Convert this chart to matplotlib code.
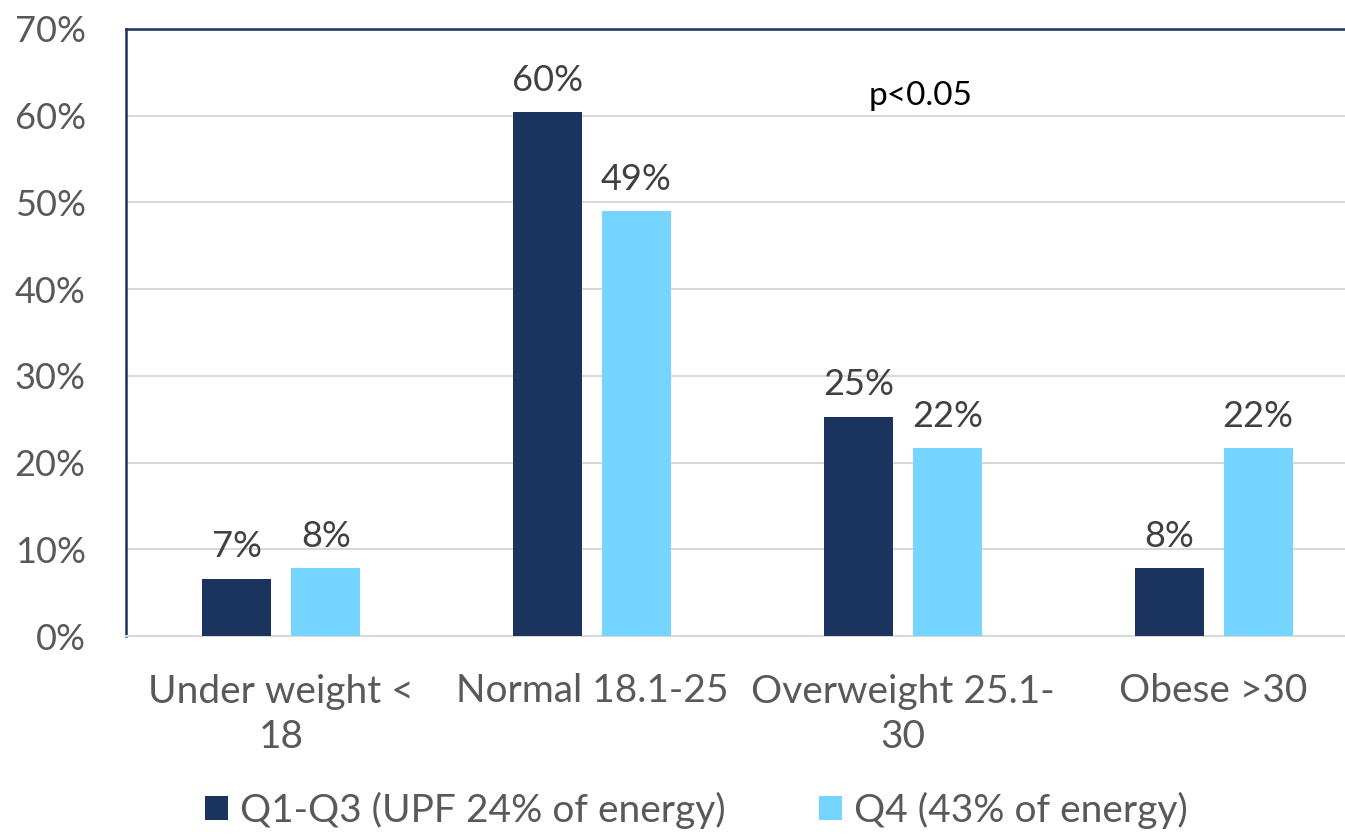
import matplotlib
matplotlib.use("Agg")
import matplotlib.pyplot as plt
import numpy as np

categories = ["Under weight <\n18", "Normal 18.1-25", "Overweight 25.1-\n30", "Obese >30"]
q1_q3 = [6.6, 60.4, 25.3, 7.8]
q4 = [7.8, 49.0, 21.7, 21.7]
series_names = ["Q1-Q3 (UPF 24% of energy)", "Q4 (43% of energy)"]
y_ticks = [0, 10, 20, 30, 40, 50, 60, 70]

dark = "#1b335f"
light = "#75d5fe"
text_grey = "#595959"
label_grey = "#404040"

plt.rcParams["font.family"] = ["Lato", "DejaVu Sans"]

W, H = 1345, 836
fig = plt.figure(figsize=(W / 100, H / 100), dpi=100)
# plot area runs slightly past the right edge of the canvas
ax = fig.add_axes([126 / W, (H - 636) / H, 1243 / W, (636 - 29) / H])

x = np.arange(len(categories))
bw = 0.222
off = 0.143
b1 = ax.bar(x - off, q1_q3, bw, color=dark, label=series_names[0], zorder=3)
b2 = ax.bar(x + off, q4, bw, color=light, label=series_names[1], zorder=3)

for bars, vals in ((b1, q1_q3), (b2, q4)):
    for rect, v in zip(bars, vals):
        ax.annotate(f"{int(v + 0.5)}%", (rect.get_x() + rect.get_width() / 2, v),
                    xytext=(0, 11), textcoords="offset points",
                    ha="center", va="bottom", fontsize=26, color=label_grey)

ax.set_xlim(-0.5, len(categories) - 0.5)
ax.set_ylim(0, 70)
ax.set_yticks(y_ticks)
ax.set_yticklabels([f"{t}%" for t in y_ticks])
ax.set_xticks(x)
ax.set_xticklabels(categories, linespacing=1.32)
ax.tick_params(axis="y", length=0, pad=29, labelsize=26, labelcolor=text_grey)
ax.tick_params(axis="x", length=0, pad=27, labelsize=28, labelcolor=text_grey)

ax.grid(axis="y", color="#d9d9d9", linewidth=1.5, zorder=0)
ax.set_axisbelow(True)
for s in ("left", "top"):
    ax.spines[s].set_color(dark)
    ax.spines[s].set_linewidth(1.8)
ax.spines["right"].set_visible(False)
ax.spines["bottom"].set_color("#d9d9d9")
ax.spines["bottom"].set_linewidth(1.5)

ax.text(0.639, 0.889, "p<0.05", transform=ax.transAxes, ha="center", va="center",
        fontsize=24, color="black")

leg = fig.legend(loc="center", bbox_to_anchor=(696 / W, (H - 810) / H), ncol=2,
                 frameon=False, fontsize=28, handlelength=0.6, handleheight=0.6,
                 handletextpad=0.3, columnspacing=2.4)
for t in leg.get_texts():
    t.set_color(text_grey)

fig.savefig("out.png", dpi=100)
